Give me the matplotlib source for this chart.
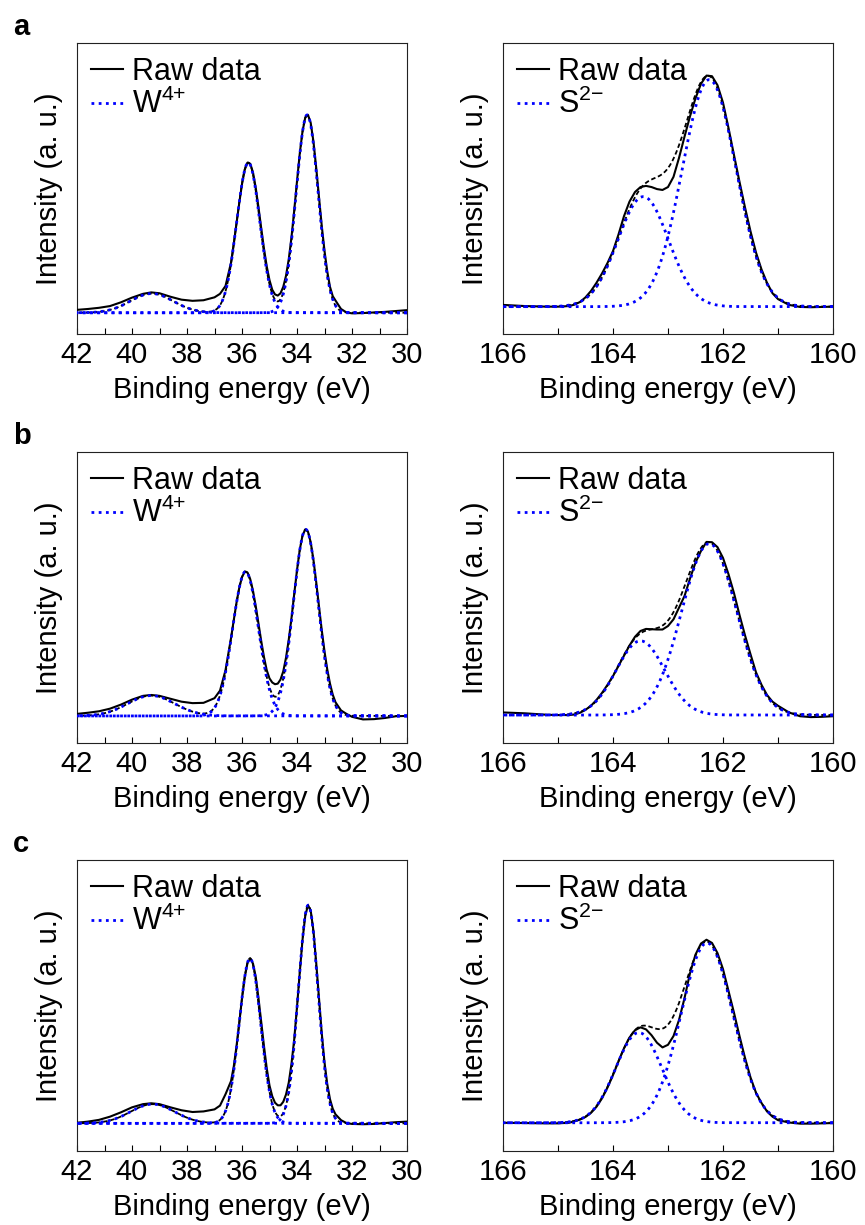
import numpy as np
import matplotlib
matplotlib.use('Agg')
from matplotlib import pyplot as plt
from matplotlib.ticker import MultipleLocator

plt.rcParams['font.family'] = ['Liberation Sans', 'DejaVu Sans']
plt.rcParams['mathtext.default'] = 'regular'

# ---------------- W 4f region (binding energy, eV) ----------------
x_w = [42.0, 41.6, 41.2, 40.8, 40.4, 40.0, 39.6, 39.3, 39.0, 38.6, 38.2, 37.8, 37.4, 37.0, 36.8, 36.6,
       36.4, 36.3, 36.2, 36.1, 36.0, 35.9, 35.8, 35.7, 35.6, 35.5, 35.4, 35.3, 35.2, 35.1, 35.0,
       34.9, 34.8, 34.7, 34.6, 34.5, 34.4, 34.3, 34.2, 34.1, 34.0, 33.9, 33.8, 33.7, 33.6, 33.5,
       33.4, 33.3, 33.2, 33.1, 33.0, 32.9, 32.8, 32.7, 32.6,
       32.4, 32.2, 32.0, 31.6, 31.2, 30.8, 30.4, 30.0]

raw_w_a = [8.3, 8.6, 9.0, 9.6, 10.9, 12.5, 13.8, 14.3, 14.0, 12.8, 11.8, 11.4, 11.6, 12.6, 13.8, 16.5,
           24.5, 31.0, 38.0, 45.0, 51.5, 56.5, 58.9, 58.5, 55.5, 50.2, 43.5, 36.3, 29.3, 23.2, 18.5,
           15.2, 13.6, 13.2, 14.0, 16.2, 20.0, 25.7, 33.3, 42.6, 52.5, 62.0, 69.6, 74.4, 75.3, 72.5,
           66.0, 57.0, 47.0, 37.2, 28.6, 21.5, 16.2, 13.0, 11.5,
           8.6, 7.4, 7.1, 7.2, 7.4, 7.6, 7.9, 8.2]

raw_w_b = [10.0, 10.4, 10.9, 11.8, 13.2, 14.9, 16.2, 16.5, 16.2, 15.2, 14.2, 13.7, 13.8, 15.4, 18.0, 25.0,
           36.0, 42.2, 48.2, 53.3, 57.0, 58.9, 58.6, 56.3, 52.3, 47.0, 41.0, 35.0, 29.5, 25.0, 22.2,
           20.8, 20.2, 20.4, 21.8, 24.6, 29.3, 35.5, 43.0, 51.3, 59.4, 66.4, 71.3, 73.4, 72.6, 68.9,
           62.8, 55.2, 46.9, 38.8, 31.5, 25.3, 20.4, 16.6, 14.0,
           11.2, 10.0, 9.0, 8.1, 8.2, 8.6, 9.2, 9.3]

raw_w_c = [9.7, 10.1, 10.7, 11.8, 13.3, 15.0, 16.1, 16.4, 16.1, 15.0, 14.0, 13.4, 13.6, 14.3, 15.6, 19.5,
           24.0, 29.0, 36.0, 44.0, 52.5, 59.8, 64.6, 66.2, 64.4, 59.8, 52.5, 44.3, 36.0, 28.4, 22.5,
           18.8, 16.6, 15.7, 15.7, 16.9, 19.4, 23.5, 30.0, 38.5, 49.5, 61.3, 72.5, 80.8, 84.5, 82.5,
           75.5, 64.5, 52.5, 40.5, 30.5, 23.0, 17.8, 14.5, 12.6,
           10.6, 9.6, 9.3, 9.2, 9.3, 9.6, 9.9, 10.1]

# fitted components: (centre eV, height, sigma eV) over a flat background
base_w = [7.3, 9.3, 9.5]
fit_w_a = [(33.63, 68.0, 0.40), (35.77, 51.6, 0.42), (39.28, 6.6, 0.78)]
fit_w_b = [(33.68, 64.1, 0.45), (35.87, 49.6, 0.47), (39.30, 7.0, 0.85)]
fit_w_c = [(33.59, 75.0, 0.36), (35.71, 56.7, 0.39), (39.25, 6.6, 0.80)]

# ---------------- S 2p region ----------------
x_s = [166.0, 165.6, 165.2, 165.0,
       164.8, 164.7, 164.6, 164.5, 164.4, 164.3, 164.2, 164.1, 164.0,
       163.9, 163.8, 163.7, 163.6, 163.5, 163.4, 163.3, 163.2, 163.1, 163.0,
       162.9, 162.8, 162.7, 162.6, 162.5, 162.4, 162.3, 162.2, 162.1, 162.0,
       161.9, 161.8, 161.7, 161.6, 161.5, 161.4, 161.3, 161.2, 161.1, 161.0,
       160.8, 160.6, 160.4, 160.2, 160.0]

raw_s_a = [10.0, 9.6, 9.4, 9.4,
           9.6, 10.1, 11.0, 12.6, 14.8, 17.6, 20.8, 24.4, 28.5,
           34.2, 40.5, 45.5, 48.8, 50.5, 50.9, 50.5, 49.8, 49.5, 50.5,
           54.0, 60.5, 67.8, 74.8, 81.0, 86.0, 88.8, 88.6, 85.5, 79.5,
           70.8, 61.5, 52.3, 43.5, 35.3, 28.0, 22.2, 17.6, 14.0, 12.0,
           10.0, 9.3, 9.2, 9.3, 9.4]

raw_s_b = [10.5, 10.2, 9.7, 9.6,
           9.6, 9.8, 10.4, 11.4, 12.8, 14.8, 17.2, 20.0, 23.0,
           26.5, 30.0, 33.5, 36.5, 38.5, 39.2, 39.1, 39.0, 39.0, 40.2,
           42.5, 46.5, 50.5, 56.5, 62.0, 66.0, 69.1, 69.0, 67.3, 63.6,
           58.0, 51.5, 44.0, 37.0, 30.5, 24.3, 20.0, 16.5, 14.2, 12.8,
           10.5, 9.2, 8.9, 9.0, 9.2]

raw_s_c = [9.7, 9.6, 9.5, 9.5,
           9.7, 10.2, 10.8, 11.7, 13.1, 15.2, 18.1, 21.8, 26.1,
           30.8, 35.3, 39.0, 41.5, 42.5, 41.8, 39.8, 37.2, 35.6, 36.5,
           39.5, 45.0, 52.5, 61.1, 67.5, 71.3, 72.6, 71.5, 68.0, 62.5,
           55.0, 47.5, 39.5, 32.0, 25.3, 20.0, 16.5, 13.6, 11.8, 10.6,
           9.8, 9.4, 9.4, 9.5, 9.6]

base_s = [9.4, 9.6, 9.7]
fit_s_a = [(162.25, 78.0, 0.49), (163.45, 37.8, 0.46)]
fit_s_b = [(162.25, 58.9, 0.50), (163.50, 25.5, 0.44)]
fit_s_c = [(162.29, 61.8, 0.47), (163.53, 31.0, 0.42)]

letters = ['a', 'b', 'c']
species = ['W$^{4{+}}$', 'S$^{2{-}}$']
xlims = [(42, 30), (166, 160)]

panels = [
    [(x_w, raw_w_a, base_w[0], fit_w_a), (x_s, raw_s_a, base_s[0], fit_s_a)],
    [(x_w, raw_w_b, base_w[1], fit_w_b), (x_s, raw_s_b, base_s[1], fit_s_b)],
    [(x_w, raw_w_c, base_w[2], fit_w_c), (x_s, raw_s_c, base_s[2], fit_s_c)],
]


def gauss(x, c, h, s):
    return h * np.exp(-0.5 * ((x - c) / s) ** 2)


W, H = 865.0, 1225.0
fig = plt.figure(figsize=(W / 100, H / 100), dpi=100)

col_x = [77, 503]
row_top = [43, 452, 860]
ax_w, ax_h = 330, 291
blue = '#0000ff'

for i in range(3):
    for j in range(2):
        xr, raw, base, fit = panels[i][j]
        ax = fig.add_axes([col_x[j] / W, 1 - (row_top[i] + ax_h) / H, ax_w / W, ax_h / H])

        ax.plot(xr, raw, color='k', lw=1.5, label='Raw data', zorder=3)

        xf = np.linspace(xlims[j][1], xlims[j][0], 800)
        env = base + sum(gauss(xf, *p) for p in fit)
        ax.plot(xf, env, color='k', lw=1.3, ls=(0, (2.5, 1.5)), zorder=2)
        for k, p in enumerate(fit):
            ax.plot(xf, base + gauss(xf, *p), color=blue, lw=2.0, ls=(0, (1, 1.6)),
                    label=species[j] if k == 0 else None, zorder=4)

        ax.set_xlim(*xlims[j])
        ax.set_ylim(0, 100)
        ax.xaxis.set_major_locator(MultipleLocator(2))
        ax.xaxis.set_minor_locator(MultipleLocator(1))
        ax.tick_params(axis='x', which='both', direction='in', length=4, width=0.8,
                       labelsize=21, pad=5, top=False)
        ax.set_yticks([])
        for sp in ax.spines.values():
            sp.set_linewidth(0.8)
            sp.set_color('#222222')
        ax.set_xlabel('Binding energy (eV)', fontsize=21, labelpad=5)
        ax.set_ylabel('Intensity (a. u.)', fontsize=21, labelpad=10)
        ax.legend(loc='upper left', frameon=False, fontsize=22, handlelength=1.05,
                  handletextpad=0.3, labelspacing=0.08, borderaxespad=0.15, borderpad=0.3)

    fig.text(12.7 / W, 1 - (35 + row_top[i] - 43) / H, letters[i], fontsize=21,
             fontweight='bold', va='baseline')

fig.savefig('out.png', dpi=100)
